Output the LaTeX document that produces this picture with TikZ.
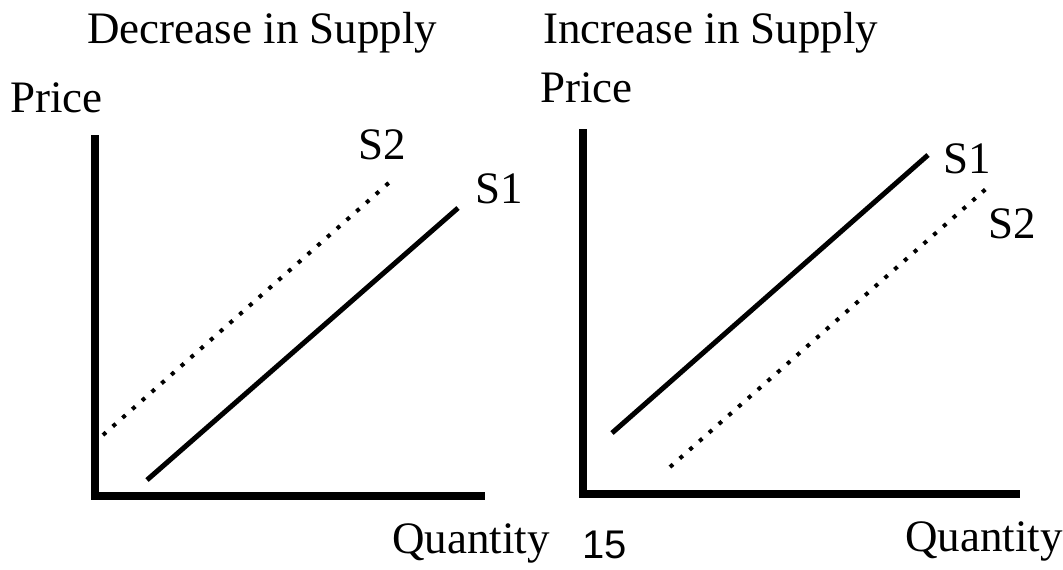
\documentclass[tikz,border=0pt]{standalone}
\usepackage{fontspec}
\setmainfont{Liberation Serif}
\newfontfamily\pagenumfont{Liberation Sans}

\begin{document}
\begin{tikzpicture}[x=0.5pt, y=-0.5pt,
    lbl/.style={inner sep=0pt, anchor=base west, font=\fontsize{22.5}{27}\selectfont},
    axisline/.style={line width=4pt, line join=miter},
    supply/.style={line width=2.5pt},
    shifted/.style={line width=2pt, dash pattern=on 2pt off 4.5pt}]
    \useasboundingbox (0,0) rectangle (1063,569);

    % titles
    \node[lbl] (tdec) at (87,43) {Decrease in Supply};
    \node[lbl] (tinc) at (543,43) {Increase in Supply};

    % left: decrease
    \node[lbl] (pleft) at (10,112) {Price};
    \node[lbl] (qleft) at (392,553) {Quantity};
    \coordinate (ly) at (94.5,135);
    \coordinate (lo) at (94.5,496);
    \coordinate (lx) at (485,496);
    \draw[axisline] (ly) -- (lo) -- (lx);
    \coordinate (ls1a) at (147,480);
    \coordinate (ls1b) at (458,208);
    \coordinate (ls2a) at (103,435);
    \coordinate (ls2b) at (392,180);
    \draw[supply] (ls1a) -- (ls1b);
    \draw[shifted] (ls2a) -- (ls2b);
    \node[lbl] (lS2) at (358,159) {S2};
    \node[lbl] (lS1) at (475,203) {S1};

    % right: increase
    \node[lbl] (pright) at (540,102) {Price};
    \node[lbl] (qright) at (905,551) {Quantity};
    \coordinate (ry) at (583,129);
    \coordinate (ro) at (583,494);
    \coordinate (rx) at (1020,494);
    \draw[axisline] (ry) -- (ro) -- (rx);
    \coordinate (rs1a) at (612,433);
    \coordinate (rs1b) at (928,155);
    \coordinate (rs2a) at (670,467);
    \coordinate (rs2b) at (987,188);
    \draw[supply] (rs1a) -- (rs1b);
    \draw[shifted] (rs2a) -- (rs2b);
    \node[lbl] (rS1) at (943,173) {S1};
    \node[lbl] (rS2) at (988,238) {S2};

    % page number
    \node[lbl, font=\pagenumfont\fontsize{20}{24}\selectfont] (pnum) at (582,558) {15};
\end{tikzpicture}
\end{document}
